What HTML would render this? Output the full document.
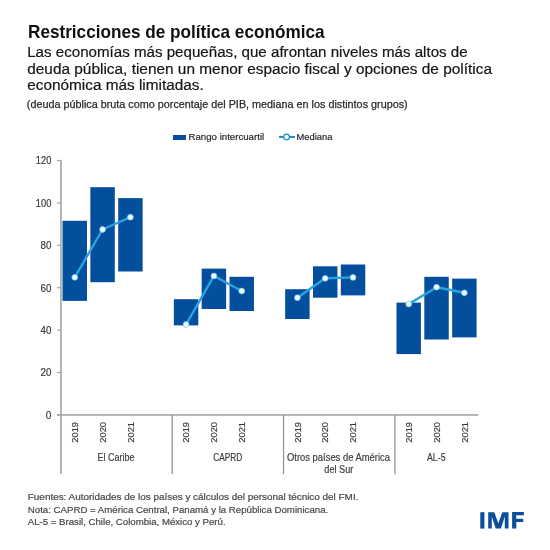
<!DOCTYPE html>
<html><head><meta charset="utf-8"><style>
html,body{margin:0;padding:0;background:#fff;width:550px;height:550px;overflow:hidden}
svg{display:block;will-change:transform;font-family:"Liberation Sans",sans-serif}
</style></head><body>
<svg width="550" height="550" viewBox="0 0 550 550" >
<rect width="550" height="550" fill="#fff"/>
<rect x="60.15" y="160" width="1.6" height="314" fill="#a4a4a4"/>
<rect x="57" y="414.15" width="421.3" height="1.6" fill="#a4a4a4"/>
<rect x="57" y="159.90" width="4" height="1.2" fill="#a4a4a4"/>
<rect x="57" y="202.30" width="4" height="1.2" fill="#a4a4a4"/>
<rect x="57" y="244.70" width="4" height="1.2" fill="#a4a4a4"/>
<rect x="57" y="287.10" width="4" height="1.2" fill="#a4a4a4"/>
<rect x="57" y="329.50" width="4" height="1.2" fill="#a4a4a4"/>
<rect x="57" y="371.90" width="4" height="1.2" fill="#a4a4a4"/>
<rect x="57" y="414.30" width="4" height="1.2" fill="#a4a4a4"/>
<rect x="171.56" y="415" width="1.3" height="59.2" fill="#949494"/>
<rect x="282.88" y="415" width="1.3" height="59.2" fill="#949494"/>
<rect x="394.20" y="415" width="1.3" height="59.2" fill="#949494"/>
<rect x="62.52" y="220.80" width="24.45" height="80.10" fill="#034f9d"/>
<rect x="90.36" y="187.20" width="24.45" height="95.00" fill="#034f9d"/>
<rect x="118.19" y="198.10" width="24.45" height="73.40" fill="#034f9d"/>
<rect x="173.84" y="299.20" width="24.45" height="26.20" fill="#034f9d"/>
<rect x="201.67" y="268.60" width="24.45" height="40.40" fill="#034f9d"/>
<rect x="229.50" y="276.80" width="24.45" height="34.20" fill="#034f9d"/>
<rect x="285.16" y="289.20" width="24.45" height="29.80" fill="#034f9d"/>
<rect x="312.99" y="266.30" width="24.45" height="31.40" fill="#034f9d"/>
<rect x="340.82" y="264.50" width="24.45" height="30.90" fill="#034f9d"/>
<rect x="396.48" y="302.60" width="24.45" height="51.50" fill="#034f9d"/>
<rect x="424.31" y="276.80" width="24.45" height="62.70" fill="#034f9d"/>
<rect x="452.14" y="278.60" width="24.45" height="58.80" fill="#034f9d"/>
<polyline points="74.75,277.3 102.58,229.5 130.41,217.2" fill="none" stroke="#2aa2de" stroke-width="2.4" stroke-linejoin="round"/>
<polyline points="186.07,324.5 213.89999999999998,275.9 241.73,291.0" fill="none" stroke="#2aa2de" stroke-width="2.4" stroke-linejoin="round"/>
<polyline points="297.39,297.7 325.21999999999997,278.3 353.04999999999995,277.4" fill="none" stroke="#2aa2de" stroke-width="2.4" stroke-linejoin="round"/>
<polyline points="408.71,304.1 436.53999999999996,287.2 464.37,292.8" fill="none" stroke="#2aa2de" stroke-width="2.4" stroke-linejoin="round"/>
<circle cx="74.75" cy="277.3" r="2.9" fill="#f2fbff" stroke="#6cc6ee" stroke-width="0.7"/>
<circle cx="102.58" cy="229.5" r="2.9" fill="#f2fbff" stroke="#6cc6ee" stroke-width="0.7"/>
<circle cx="130.41" cy="217.2" r="2.9" fill="#f2fbff" stroke="#6cc6ee" stroke-width="0.7"/>
<circle cx="186.07" cy="324.5" r="2.9" fill="#f2fbff" stroke="#6cc6ee" stroke-width="0.7"/>
<circle cx="213.89999999999998" cy="275.9" r="2.9" fill="#f2fbff" stroke="#6cc6ee" stroke-width="0.7"/>
<circle cx="241.73" cy="291.0" r="2.9" fill="#f2fbff" stroke="#6cc6ee" stroke-width="0.7"/>
<circle cx="297.39" cy="297.7" r="2.9" fill="#f2fbff" stroke="#6cc6ee" stroke-width="0.7"/>
<circle cx="325.21999999999997" cy="278.3" r="2.9" fill="#f2fbff" stroke="#6cc6ee" stroke-width="0.7"/>
<circle cx="353.04999999999995" cy="277.4" r="2.9" fill="#f2fbff" stroke="#6cc6ee" stroke-width="0.7"/>
<circle cx="408.71" cy="304.1" r="2.9" fill="#f2fbff" stroke="#6cc6ee" stroke-width="0.7"/>
<circle cx="436.53999999999996" cy="287.2" r="2.9" fill="#f2fbff" stroke="#6cc6ee" stroke-width="0.7"/>
<circle cx="464.37" cy="292.8" r="2.9" fill="#f2fbff" stroke="#6cc6ee" stroke-width="0.7"/>
<text x="28" y="37.8" font-size="18.2" font-weight="bold" fill="#111" textLength="296.5" lengthAdjust="spacingAndGlyphs">Restricciones de política económica</text>
<text x="27.2" y="56.9" font-size="15.2" font-weight="normal" fill="#151515" textLength="440.5" lengthAdjust="spacingAndGlyphs" stroke="#151515" stroke-width="0.2">Las economías más pequeñas, que afrontan niveles más altos de</text>
<text x="27.2" y="73.55" font-size="15.2" font-weight="normal" fill="#151515" textLength="464.8" lengthAdjust="spacingAndGlyphs" stroke="#151515" stroke-width="0.2">deuda pública, tienen un menor espacio fiscal y opciones de política</text>
<text x="27.2" y="90.19999999999999" font-size="15.2" font-weight="normal" fill="#151515" textLength="176.6" lengthAdjust="spacingAndGlyphs" stroke="#151515" stroke-width="0.2">económica más limitadas.</text>
<text x="26.8" y="107.5" font-size="11" font-weight="normal" fill="#2a2a2a" textLength="380.9" lengthAdjust="spacingAndGlyphs" stroke="#2a2a2a" stroke-width="0.25">(deuda pública bruta como porcentaje del PIB, mediana en los distintos grupos)</text>
<rect x="173" y="135" width="13" height="5" fill="#034f9d"/>
<text x="188.5" y="140.3" font-size="9.8" font-weight="normal" fill="#2a2a2a" textLength="75.7" lengthAdjust="spacingAndGlyphs" stroke="#2a2a2a" stroke-width="0.2">Rango intercuartil</text>
<line x1="279" y1="136.9" x2="295" y2="136.9" stroke="#1f8dc6" stroke-width="2"/>
<circle cx="286.6" cy="136.9" r="2.8" fill="#fff" stroke="#1f8dc6" stroke-width="1.2"/>
<text x="296.5" y="140.3" font-size="9.8" font-weight="normal" fill="#2a2a2a" textLength="35.9" lengthAdjust="spacingAndGlyphs" stroke="#2a2a2a" stroke-width="0.2">Mediana</text>
<text x="51.4" y="164.4" font-size="10.1" font-weight="normal" fill="#3c3c3c" text-anchor="end" textLength="15.6" lengthAdjust="spacingAndGlyphs" stroke="#3c3c3c" stroke-width="0.18">120</text>
<text x="51.4" y="206.8" font-size="10.1" font-weight="normal" fill="#3c3c3c" text-anchor="end" textLength="15.6" lengthAdjust="spacingAndGlyphs" stroke="#3c3c3c" stroke-width="0.18">100</text>
<text x="51.4" y="249.20000000000002" font-size="10.1" font-weight="normal" fill="#3c3c3c" text-anchor="end" textLength="10.9" lengthAdjust="spacingAndGlyphs" stroke="#3c3c3c" stroke-width="0.18">80</text>
<text x="51.4" y="291.59999999999997" font-size="10.1" font-weight="normal" fill="#3c3c3c" text-anchor="end" textLength="10.9" lengthAdjust="spacingAndGlyphs" stroke="#3c3c3c" stroke-width="0.18">60</text>
<text x="51.4" y="334.0" font-size="10.1" font-weight="normal" fill="#3c3c3c" text-anchor="end" textLength="10.9" lengthAdjust="spacingAndGlyphs" stroke="#3c3c3c" stroke-width="0.18">40</text>
<text x="51.4" y="376.4" font-size="10.1" font-weight="normal" fill="#3c3c3c" text-anchor="end" textLength="10.9" lengthAdjust="spacingAndGlyphs" stroke="#3c3c3c" stroke-width="0.18">20</text>
<text x="51.4" y="418.79999999999995" font-size="10.1" font-weight="normal" fill="#3c3c3c" text-anchor="end" textLength="5.6" lengthAdjust="spacingAndGlyphs" stroke="#3c3c3c" stroke-width="0.18">0</text>
<text transform="translate(78.00,442.7) rotate(-90)" font-size="9.4" fill="#3c3c3c" stroke="#3c3c3c" stroke-width="0.18" textLength="20.7" lengthAdjust="spacingAndGlyphs">2019</text>
<text transform="translate(105.83,442.7) rotate(-90)" font-size="9.4" fill="#3c3c3c" stroke="#3c3c3c" stroke-width="0.18" textLength="20.7" lengthAdjust="spacingAndGlyphs">2020</text>
<text transform="translate(133.66,442.7) rotate(-90)" font-size="9.4" fill="#3c3c3c" stroke="#3c3c3c" stroke-width="0.18" textLength="20.7" lengthAdjust="spacingAndGlyphs">2021</text>
<text transform="translate(189.32,442.7) rotate(-90)" font-size="9.4" fill="#3c3c3c" stroke="#3c3c3c" stroke-width="0.18" textLength="20.7" lengthAdjust="spacingAndGlyphs">2019</text>
<text transform="translate(217.15,442.7) rotate(-90)" font-size="9.4" fill="#3c3c3c" stroke="#3c3c3c" stroke-width="0.18" textLength="20.7" lengthAdjust="spacingAndGlyphs">2020</text>
<text transform="translate(244.98,442.7) rotate(-90)" font-size="9.4" fill="#3c3c3c" stroke="#3c3c3c" stroke-width="0.18" textLength="20.7" lengthAdjust="spacingAndGlyphs">2021</text>
<text transform="translate(300.64,442.7) rotate(-90)" font-size="9.4" fill="#3c3c3c" stroke="#3c3c3c" stroke-width="0.18" textLength="20.7" lengthAdjust="spacingAndGlyphs">2019</text>
<text transform="translate(328.47,442.7) rotate(-90)" font-size="9.4" fill="#3c3c3c" stroke="#3c3c3c" stroke-width="0.18" textLength="20.7" lengthAdjust="spacingAndGlyphs">2020</text>
<text transform="translate(356.30,442.7) rotate(-90)" font-size="9.4" fill="#3c3c3c" stroke="#3c3c3c" stroke-width="0.18" textLength="20.7" lengthAdjust="spacingAndGlyphs">2021</text>
<text transform="translate(411.96,442.7) rotate(-90)" font-size="9.4" fill="#3c3c3c" stroke="#3c3c3c" stroke-width="0.18" textLength="20.7" lengthAdjust="spacingAndGlyphs">2019</text>
<text transform="translate(439.79,442.7) rotate(-90)" font-size="9.4" fill="#3c3c3c" stroke="#3c3c3c" stroke-width="0.18" textLength="20.7" lengthAdjust="spacingAndGlyphs">2020</text>
<text transform="translate(467.62,442.7) rotate(-90)" font-size="9.4" fill="#3c3c3c" stroke="#3c3c3c" stroke-width="0.18" textLength="20.7" lengthAdjust="spacingAndGlyphs">2021</text>
<text x="97.6" y="460.7" font-size="10.2" font-weight="normal" fill="#3c3c3c" textLength="37" lengthAdjust="spacingAndGlyphs" stroke="#3c3c3c" stroke-width="0.18">El Caribe</text>
<text x="213.2" y="460.7" font-size="10.2" font-weight="normal" fill="#3c3c3c" textLength="29" lengthAdjust="spacingAndGlyphs" stroke="#3c3c3c" stroke-width="0.18">CAPRD</text>
<text x="287.0" y="460.6" font-size="10.2" font-weight="normal" fill="#3c3c3c" textLength="103" lengthAdjust="spacingAndGlyphs" stroke="#3c3c3c" stroke-width="0.18">Otros países de América</text>
<text x="426.9" y="460.7" font-size="10.2" font-weight="normal" fill="#3c3c3c" textLength="18.7" lengthAdjust="spacingAndGlyphs" stroke="#3c3c3c" stroke-width="0.18">AL-5</text>
<text x="324.3" y="473.3" font-size="10.2" font-weight="normal" fill="#3c3c3c" textLength="29" lengthAdjust="spacingAndGlyphs" stroke="#3c3c3c" stroke-width="0.18">del Sur</text>
<text x="27.8" y="500.3" font-size="9.0" font-weight="normal" fill="#4a4a4a" textLength="330.6" lengthAdjust="spacingAndGlyphs" stroke="#4a4a4a" stroke-width="0.2">Fuentes: Autoridades de los países y cálculos del personal técnico del FMI.</text>
<text x="27.8" y="512.85" font-size="9.0" font-weight="normal" fill="#4a4a4a" textLength="300.4" lengthAdjust="spacingAndGlyphs" stroke="#4a4a4a" stroke-width="0.2">Nota: CAPRD = América Central, Panamá y la República Dominicana.</text>
<text x="27.8" y="525.4" font-size="9.0" font-weight="normal" fill="#4a4a4a" textLength="197.8" lengthAdjust="spacingAndGlyphs" stroke="#4a4a4a" stroke-width="0.2">AL-5 = Brasil, Chile, Colombia, México y Perú.</text>
<g fill="#0b4e9b"><rect x="480.3" y="512.2" width="4.1" height="16.4"/><path d="M488.2 528.6V512.2H494.3L498.3 523.2L502.3 512.2H508.5V528.6H504.8V516.6L500.9 528.6H495.7L491.8 516.6V528.6Z"/><path d="M512.1 528.6V512.1H523.9V515.3H516.3V518.8H523.2V522.1H516.3V528.6Z"/></g>
</svg>
</body></html>
